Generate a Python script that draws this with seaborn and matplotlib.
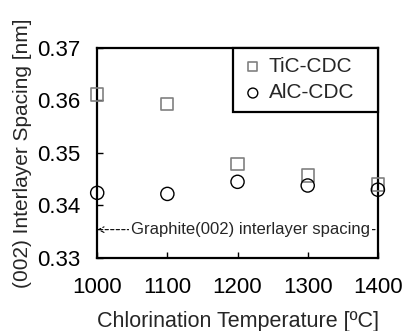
import matplotlib
matplotlib.use("Agg")
import matplotlib.pyplot as plt
import seaborn as sns

# Datos
temperaturas = [1000, 1100, 1200, 1300, 1400]
tic_cdc = [0.3611, 0.3593, 0.3479, 0.3457, 0.3440]
alc_cdc = [0.3424, 0.3422, 0.3445, 0.3438, 0.3430]
grafito = 0.3354
yticks = [0.33, 0.34, 0.35, 0.36, 0.37]

sns.set_style("ticks")
plt.rcParams['font.family'] = ['Liberation Sans', 'DejaVu Sans']
plt.rcParams['xtick.direction'] = 'in'
plt.rcParams['ytick.direction'] = 'in'

fig = plt.figure(figsize=(4.05, 3.31), dpi=100)
ax = fig.add_axes([0.24, 0.2205, 0.693, 0.635])

sns.scatterplot(x=temperaturas, y=tic_cdc, marker='s', s=78, facecolor='none',
                edgecolor='#808080', linewidth=1.2, label='TiC-CDC', clip_on=False, zorder=3, ax=ax)
sns.scatterplot(x=temperaturas, y=alc_cdc, marker='o', s=90, facecolor='none',
                edgecolor='black', linewidth=1.0, label='AlC-CDC', clip_on=False, zorder=3, ax=ax)

# Línea de referencia del grafito
ax.annotate('', xy=(1000, grafito), xytext=(1396, grafito),
            arrowprops=dict(arrowstyle='->', linestyle=(0, (3, 2)), color='black', lw=0.8,
                            shrinkA=0, shrinkB=0))
ax.text(1219, grafito, 'Graphite(002) interlayer spacing', ha='center', va='center', fontsize=12,
        bbox=dict(facecolor='white', edgecolor='none', pad=1.5))

ax.set_xlim(1000, 1400)
ax.set_ylim(0.33, 0.37)
ax.set_xticks(temperaturas)
ax.set_yticks(yticks)
ax.set_yticklabels([f'{v:.2f}' for v in yticks])
ax.tick_params(labelsize=16, length=4.5, width=1, colors='black')
ax.tick_params(axis='x', pad=14)
ax.tick_params(axis='y', pad=12)
for s in ax.spines.values():
    s.set_linewidth(1.6)
    s.set_color('black')
    s.set_visible(True)

ax.set_xlabel('Chlorination Temperature [ºC]', fontsize=15.5, labelpad=9)
ax.set_ylabel('(002) Interlayer Spacing [nm]', fontsize=15, labelpad=4)

leg = ax.legend(loc='upper left', bbox_to_anchor=(0.484, 0, 0.516, 1), mode='expand',
                borderaxespad=0, fontsize=15, fancybox=False, framealpha=1, edgecolor='black',
                handletextpad=0.25, borderpad=0.45, labelspacing=0.35, handlelength=1.0,
                markerscale=0.75)
leg.get_frame().set_linewidth(1.6)

fig.savefig('out.png', dpi=100)
